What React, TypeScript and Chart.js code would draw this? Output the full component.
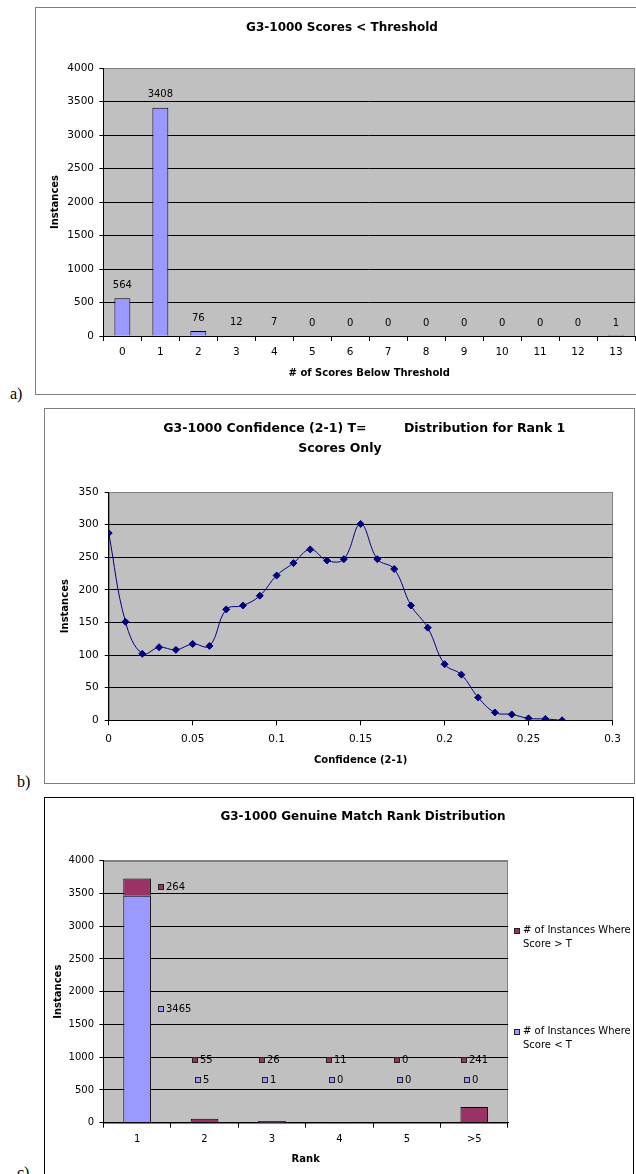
import React, { useEffect, useRef } from 'react';
import { Chart, registerables } from 'chart.js';

Chart.register(...registerables);

const FONT = "'DejaVu Sans', 'Liberation Sans', Arial, sans-serif";
const SERIF = "'Liberation Serif', 'Times New Roman', serif";

// ---------- (a) G3-1000 Scores < Threshold ----------
const SCORE_CATEGORIES = ['0', '1', '2', '3', '4', '5', '6', '7', '8', '9', '10', '11', '12', '13'];
const SCORE_INSTANCES = [564, 3408, 76, 12, 7, 0, 0, 0, 0, 0, 0, 0, 0, 1];
const TITLE_A = 'G3-1000 Scores < Threshold';
const X_TITLE_A = '# of Scores Below Threshold';

// ---------- (b) Confidence distribution ----------
const CONFIDENCE_X = [0, 0.01, 0.02, 0.03, 0.04, 0.05, 0.06, 0.07, 0.08, 0.09, 0.1, 0.11, 0.12, 0.13, 0.14, 0.15, 0.16, 0.17, 0.18, 0.19, 0.2, 0.21, 0.22, 0.23, 0.24, 0.25, 0.26, 0.27];
const CONFIDENCE_INSTANCES = [287, 151, 102, 112, 108, 117, 114, 170, 176, 191, 222, 241, 262, 245, 247, 301, 247, 232, 176, 142, 86, 70, 35, 12, 9, 3, 2, 0];
const TITLE_B1 = 'G3-1000 Confidence (2-1) T=\u2003\u2003\u2003Distribution for Rank 1';
const TITLE_B2 = 'Scores Only';
const X_TITLE_B = 'Confidence (2-1)';

// ---------- (c) Genuine match rank distribution ----------
const RANK_CATEGORIES = ['1', '2', '3', '4', '5', '>5'];
const BELOW_T = [3465, 5, 1, 0, 0, 0];
const ABOVE_T = [264, 55, 26, 11, 0, 241];
const BELOW_T_LABEL = ['# of Instances Where', 'Score < T'];
const ABOVE_T_LABEL = ['# of Instances Where', 'Score > T'];
const TITLE_C = 'G3-1000 Genuine Match Rank Distribution';
const X_TITLE_C = 'Rank';
const CENTERED_LABEL_CATEGORIES = ['1'];
const LABEL_LEVELS = [650, 950]; // below-T labels, above-T labels (value units)
const LABEL_DX = [-7, -10];

const Y_TITLE = 'Instances';
const BLUE = '#9999FF';
const MAROON = '#993366';

// ---------- shared plugins ----------
const plotBackground = {
  id: 'plotBackground',
  beforeDraw(chart: any) {
    const { ctx, chartArea: a } = chart;
    ctx.save();
    ctx.fillStyle = '#C0C0C0';
    ctx.fillRect(a.left, a.top, a.right - a.left, a.bottom - a.top);
    ctx.strokeStyle = '#808080';
    ctx.lineWidth = 1;
    ctx.strokeRect(Math.round(a.left) + 0.5, Math.round(a.top) + 0.5, Math.round(a.right - a.left) - 1, Math.round(a.bottom - a.top));
    ctx.restore();
  },
};

function titlePlugin(lines: { text: string; dx: number }[], size: number, y: number, lineHeight: number) {
  return {
    id: 'frameTitle',
    afterDraw(chart: any) {
      const ctx = chart.ctx;
      ctx.save();
      ctx.font = `bold ${size}px ${FONT}`;
      ctx.fillStyle = '#000';
      ctx.textAlign = 'center';
      ctx.textBaseline = 'middle';
      lines.forEach((l, i) => ctx.fillText(l.text, chart.width / 2 + l.dx, y + i * lineHeight));
      ctx.restore();
    },
  };
}

const barValueLabels = {
  id: 'barValueLabels',
  afterDatasetsDraw(chart: any) {
    const ctx = chart.ctx;
    const ds = chart.data.datasets[0];
    const meta = chart.getDatasetMeta(0);
    ctx.save();
    ctx.font = `10px ${FONT}`;
    ctx.fillStyle = '#000';
    ctx.textAlign = 'center';
    ctx.textBaseline = 'middle';
    meta.data.forEach((bar: any, i: number) => {
      ctx.fillText(String(ds.data[i]), bar.x, bar.y - 13);
    });
    ctx.restore();
  },
};

const stackLabels = {
  id: 'stackLabels',
  afterDatasetsDraw(chart: any) {
    const ctx = chart.ctx;
    const yScale = chart.scales.y;
    ctx.save();
    ctx.font = `10px ${FONT}`;
    ctx.textBaseline = 'middle';
    ctx.textAlign = 'left';
    chart.data.datasets.forEach((ds: any, di: number) => {
      const meta = chart.getDatasetMeta(di);
      meta.data.forEach((bar: any, i: number) => {
        const p = bar.getProps(['x', 'y', 'base', 'width'], true);
        const centered = CENTERED_LABEL_CATEGORIES.includes(chart.data.labels[i]);
        const cx = Math.round(centered ? p.x + p.width / 2 + 10 : p.x + LABEL_DX[di]);
        const cy = Math.round(centered ? (p.y + p.base) / 2 : yScale.getPixelForValue(LABEL_LEVELS[di]));
        ctx.fillStyle = ds.backgroundColor;
        ctx.fillRect(cx - 3, cy - 3, 6, 6);
        ctx.strokeStyle = '#222';
        ctx.lineWidth = 1;
        ctx.strokeRect(cx - 2.5, cy - 2.5, 5, 5);
        ctx.fillStyle = '#000';
        ctx.fillText(String(ds.data[i]), cx + 5, cy + 0.5);
      });
    });
    ctx.restore();
  },
};

const sideLegend = {
  id: 'sideLegend',
  afterDraw(chart: any) {
    const ctx = chart.ctx;
    const a = chart.chartArea;
    const h = a.bottom - a.top;
    const items = [
      { color: MAROON, lines: ABOVE_T_LABEL, f: 0.265 },
      { color: BLUE, lines: BELOW_T_LABEL, f: 0.65 },
    ];
    ctx.save();
    ctx.font = `10px ${FONT}`;
    ctx.textBaseline = 'middle';
    ctx.textAlign = 'left';
    items.forEach((it) => {
      const y0 = Math.round(a.top + it.f * h);
      const sx = Math.round(a.right + 9);
      ctx.fillStyle = it.color;
      ctx.fillRect(sx - 3, y0 - 2, 6, 6);
      ctx.strokeStyle = '#222';
      ctx.lineWidth = 1;
      ctx.strokeRect(sx - 2.5, y0 - 1.5, 5, 5);
      ctx.fillStyle = '#000';
      it.lines.forEach((t, i) => ctx.fillText(t, sx + 6, y0 + i * 14));
    });
    ctx.restore();
  },
};

// ---------- axis helpers ----------
function yAxis(max: number, step: number, labelPad: number, titlePad: number, width: number, fontSize: number, stacked = false) {
  return {
    stacked,
    min: 0,
    max,
    ticks: {
      stepSize: step,
      padding: labelPad,
      color: '#000',
      font: { family: FONT, size: fontSize },
      callback: (v: number) => String(v),
    },
    grid: {
      color: (c: any) => (c.tick && c.tick.value === max ? '#808080' : '#000'),
      tickColor: '#000',
      tickLength: 4,
      lineWidth: 1,
    },
    border: { color: '#000' },
    title: { display: true, text: Y_TITLE, color: '#000', font: { family: FONT, size: 10, weight: 'bold' }, padding: { top: titlePad, bottom: 0 } },
    afterFit: (s: any) => {
      s.width = width;
    },
  };
}

function xAxis(title: string, fontSize: number, labelPad: number, titlePadBottom: number, height: number, extra: any = {}) {
  return {
    ...extra,
    ticks: { ...(extra.ticks || {}), padding: labelPad, color: '#000', font: { family: FONT, size: fontSize }, autoSkip: false, maxRotation: 0 },
    grid: { drawOnChartArea: false, drawTicks: true, tickLength: 5, tickColor: '#000' },
    border: { color: '#000' },
    title: { display: true, text: title, color: '#000', font: { family: FONT, size: 10, weight: 'bold' }, padding: { top: 0, bottom: titlePadBottom } },
    afterFit: (s: any) => {
      s.height = height;
    },
  };
}

const baseOptions = {
  animation: false,
  responsive: false,
  devicePixelRatio: 1,
  events: [],
};

// ---------- chart configs ----------
function makeChartA(): any {
  return {
    type: 'bar',
    data: {
      labels: SCORE_CATEGORIES,
      datasets: [
        { data: SCORE_INSTANCES, backgroundColor: BLUE, borderColor: '#000', borderWidth: 1, barPercentage: 0.42, categoryPercentage: 1 },
      ],
    },
    options: {
      ...baseOptions,
      layout: { padding: { top: 60, right: 1, left: 0, bottom: 0 } },
      plugins: { legend: { display: false }, tooltip: { enabled: false } },
      scales: {
        x: xAxis(X_TITLE_A, 10.5, 5.4, 14.7, 58),
        y: yAxis(4000, 500, 5.4, 13, 67.4, 10.5),
      },
    },
    plugins: [plotBackground, titlePlugin([{ text: TITLE_A, dx: 6 }], 12, 20, 20), barValueLabels],
  };
}

function makeChartB(): any {
  return {
    type: 'line',
    data: {
      datasets: [
        {
          data: CONFIDENCE_X.map((x, i) => ({ x, y: CONFIDENCE_INSTANCES[i] })),
          borderColor: '#000080',
          backgroundColor: '#000080',
          borderWidth: 1,
          pointStyle: 'rectRot',
          pointRadius: 3.5,
          pointBorderWidth: 1,
          tension: 0.4,
          fill: false,
        },
      ],
    },
    options: {
      ...baseOptions,
      layout: { padding: { top: 83, right: 21.5, left: 0, bottom: 0 } },
      plugins: { legend: { display: false }, tooltip: { enabled: false } },
      scales: {
        x: xAxis(X_TITLE_B, 10.5, 7.4, 15.3, 61.7, {
          type: 'linear',
          min: 0,
          max: 0.3,
          ticks: { stepSize: 0.05, callback: (v: number) => String(Number(v.toFixed(2))) },
        }),
        y: yAxis(350, 50, 6.1, 14, 63.7, 10.5),
      },
    },
    plugins: [
      plotBackground,
      titlePlugin(
        [
          { text: TITLE_B1, dx: 24.8 },
          { text: TITLE_B2, dx: 0.5 },
        ],
        12.5,
        20,
        20
      ),
    ],
  };
}

function makeChartC(): any {
  return {
    type: 'bar',
    data: {
      labels: RANK_CATEGORIES,
      datasets: [
        { label: BELOW_T_LABEL.join(' '), data: BELOW_T, backgroundColor: BLUE, borderColor: '#000', borderWidth: 1, barPercentage: 0.41, categoryPercentage: 1 },
        { label: ABOVE_T_LABEL.join(' '), data: ABOVE_T, backgroundColor: MAROON, borderColor: '#000', borderWidth: 1, barPercentage: 0.41, categoryPercentage: 1 },
      ],
    },
    options: {
      ...baseOptions,
      layout: { padding: { top: 62.7, right: 124, left: 0, bottom: 0 } },
      plugins: { legend: { display: false }, tooltip: { enabled: false } },
      scales: {
        x: xAxis(X_TITLE_C, 10, 5.6, 8.7, 51.3, { stacked: true }),
        y: yAxis(4000, 500, 5.4, 7, 58.4, 10, true),
      },
    },
    plugins: [plotBackground, titlePlugin([{ text: TITLE_C, dx: 24.5 }], 12, 19, 20), stackLabels, sideLegend],
  };
}

// ---------- components ----------
function ChartCanvas({ left, top, width, height, make }: { left: number; top: number; width: number; height: number; make: () => any }) {
  const ref = useRef<HTMLCanvasElement | null>(null);
  useEffect(() => {
    if (!ref.current) return;
    const chart = new Chart(ref.current, make());
    return () => chart.destroy();
  }, [make]);
  return <canvas ref={ref} width={width} height={height} style={{ position: 'absolute', left, top, width, height, display: 'block' }} />;
}

function Frame({ left, top, width, height, color }: { left: number; top: number; width: number; height: number; color: string }) {
  return (
    <div
      style={{
        position: 'absolute',
        left,
        top,
        width,
        height,
        boxSizing: 'border-box',
        border: `1px solid ${color}`,
        background: '#fff',
      }}
    />
  );
}

function PanelLabel({ left, top, text }: { left: number; top: number; text: string }) {
  return (
    <span style={{ position: 'absolute', left, top, fontFamily: SERIF, fontSize: 16, lineHeight: '16px', color: '#000', whiteSpace: 'nowrap' }}>
      {text}
    </span>
  );
}

export default function App() {
  return (
    <div style={{ position: 'absolute', left: 0, top: 0, width: 636, height: 1174, overflow: 'hidden', background: '#fff' }}>
      <Frame left={35} top={7} width={700} height={388} color="#808080" />
      <Frame left={44} top={408} width={591} height={376} color="#808080" />
      <Frame left={44} top={797} width={590} height={420} color="#000" />
      <PanelLabel left={10} top={386} text="a)" />
      <PanelLabel left={17} top={774} text="b)" />
      <PanelLabel left={17} top={1165} text="c)" />
      <ChartCanvas left={36} top={8} width={600} height={386} make={makeChartA} />
      <ChartCanvas left={45} top={409} width={589} height={373} make={makeChartB} />
      <ChartCanvas left={45} top={798} width={587} height={376} make={makeChartC} />
    </div>
  );
}
